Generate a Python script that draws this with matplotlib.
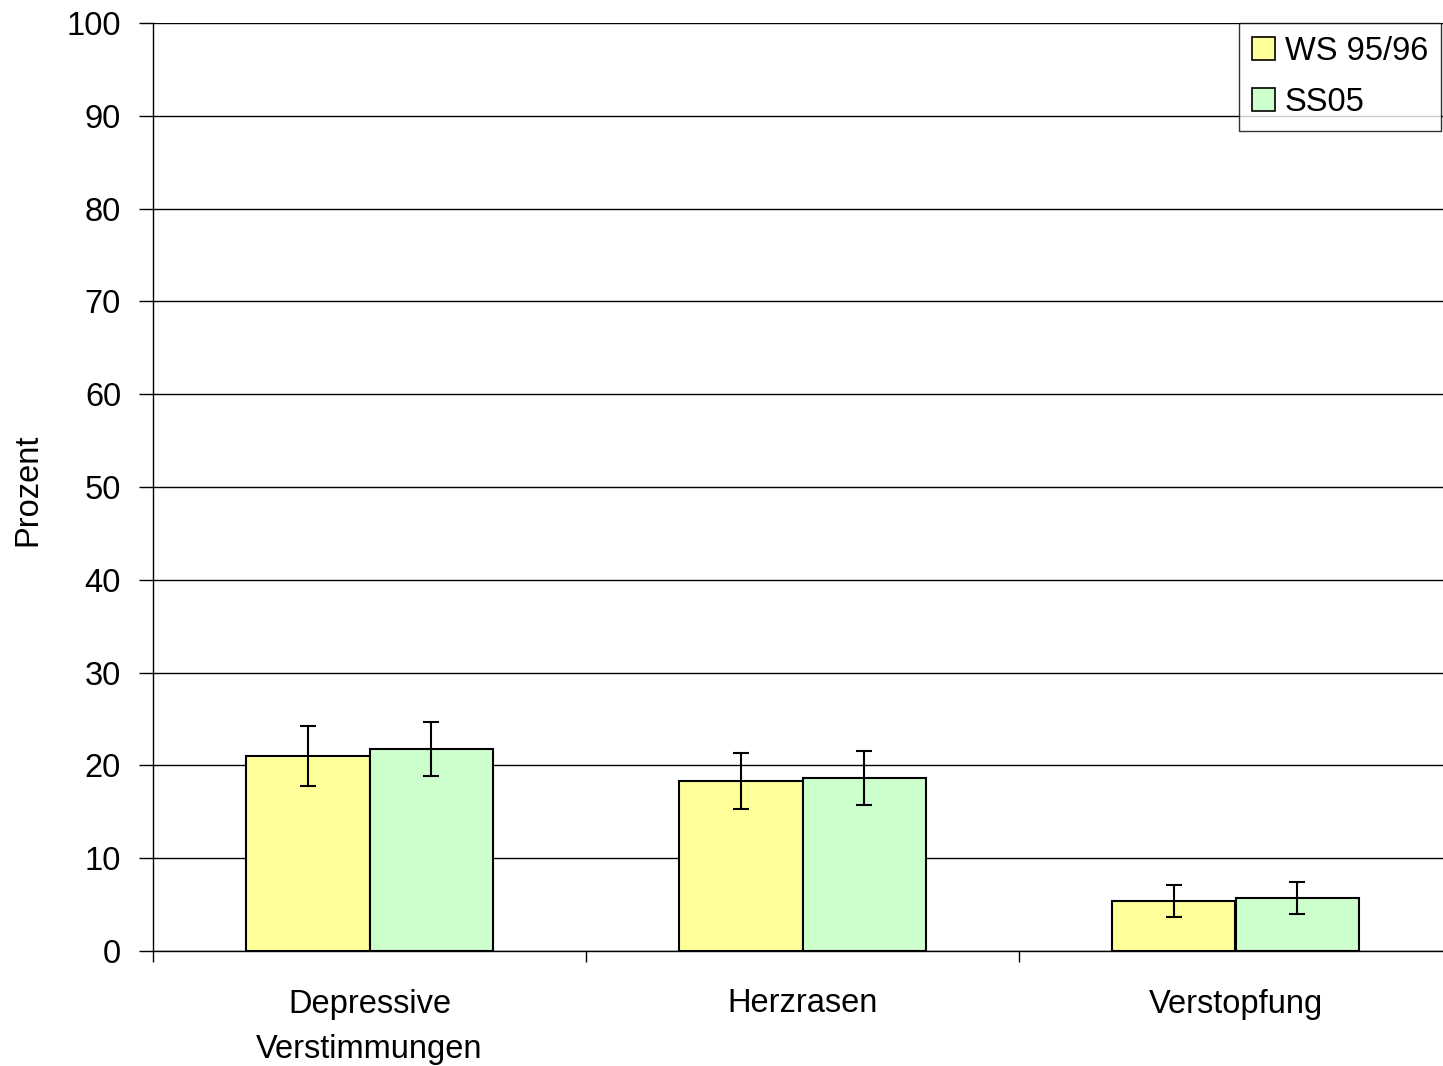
import matplotlib
matplotlib.use("Agg")
import matplotlib.pyplot as plt
import numpy as np

plt.rcParams["font.family"] = ["Liberation Sans", "DejaVu Sans"]

categories = ["Depressive\nVerstimmungen", "Herzrasen", "Verstopfung"]
series_names = ["WS 95/96", "SS05"]
ws_values = [21.0, 18.3, 5.4]
ws_errors = [3.2, 3.0, 1.7]
ss_values = [21.8, 18.6, 5.7]
ss_errors = [2.9, 2.9, 1.7]
colors = ["#FFFF99", "#CCFFCC"]

FS = 23.5
W, H = 1443, 1066
fig = plt.figure(figsize=(W / 100, H / 100), dpi=100)
ax = fig.add_axes([153 / W, 1 - 951 / H, 1299 / W, 928 / H])

x = np.arange(len(categories))
bw = 0.285
err_kw = dict(ecolor="black", elinewidth=1.5, capsize=6, capthick=1.5)
ax.bar(x - bw / 2, ws_values, bw, yerr=ws_errors, color=colors[0],
       edgecolor="black", linewidth=1.5, label=series_names[0],
       error_kw=err_kw, zorder=3)
ax.bar(x + bw / 2, ss_values, bw, yerr=ss_errors, color=colors[1],
       edgecolor="black", linewidth=1.5, label=series_names[1],
       error_kw=err_kw, zorder=3)

ax.set_xlim(-0.5, 2.5)
ax.set_ylim(0, 100)
ax.set_yticks(np.arange(0, 101, 10))
ax.yaxis.grid(True, color="black", linewidth=1.0, zorder=0)
ax.set_axisbelow(True)

# category boundary ticks, labels centred in between
ax.set_xticks([-0.5, 0.5, 1.5, 2.5])
ax.set_xticklabels([])
ax.set_xticks(x, minor=True)
ax.set_xticklabels(categories, minor=True, fontsize=FS, linespacing=1.6)
ax.tick_params(axis="x", which="minor", length=0, pad=27)
ax.tick_params(axis="x", which="major", length=8, width=1.0)
ax.tick_params(axis="y", length=10, width=1.0, labelsize=FS, pad=13)

for s in ["top", "right"]:
    ax.spines[s].set_visible(False)
ax.spines["left"].set_linewidth(1.0)
ax.spines["bottom"].set_linewidth(1.0)

fig.text(28 / W, 1 - 490 / H, "Prozent", rotation=90, ha="center",
         va="center", fontsize=FS)

leg = fig.legend(loc="upper left", bbox_to_anchor=(1239 / W, 1 - 23 / H),
                 fontsize=FS, frameon=True, fancybox=False, edgecolor="black",
                 handlelength=0.7, handleheight=0.7, handletextpad=0.3,
                 borderpad=0.4, labelspacing=0.6, borderaxespad=0)
leg.get_frame().set_linewidth(1.0)
for h in leg.legend_handles:
    h.set_linewidth(1.2)

fig.savefig("out.png", dpi=100)
